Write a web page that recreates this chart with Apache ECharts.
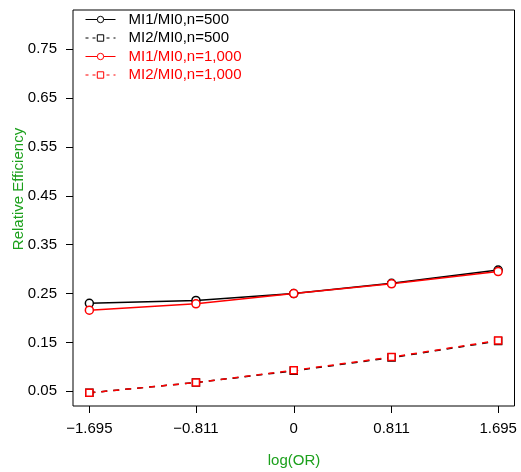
<!DOCTYPE html>
<html>
<head>
<meta charset="utf-8">
<script src="https://cdn.jsdelivr.net/npm/echarts@6/dist/echarts.min.js"></script>
<style>
  html, body { margin: 0; padding: 0; background: #fff; }
  #chart { width: 521px; height: 472px; }
</style>
</head>
<body>
<div id="chart"></div>
<script>
// log odds ratios at which relative efficiency was evaluated
const logOR = [-1.695, -0.811, 0, 0.811, 1.695];
const yTicks = [0.05, 0.15, 0.25, 0.35, 0.45, 0.55, 0.65, 0.75];

// relative efficiency values
const mi1n500  = [0.230, 0.236, 0.250, 0.271, 0.298];
const mi2n500  = [0.047, 0.068, 0.092, 0.119, 0.153];
const mi1n1000 = [0.216, 0.229, 0.250, 0.270, 0.295];
const mi2n1000 = [0.047, 0.068, 0.093, 0.120, 0.154];

const seriesNames = ['MI1/MI0,n=500', 'MI2/MI0,n=500', 'MI1/MI0,n=1,000', 'MI2/MI0,n=1,000'];

const FONT = '"Liberation Sans", Arial, Helvetica, sans-serif';
const GREEN = '#1ca01c';

function pairs(ys) { return logOR.map((x, i) => [x, ys[i]]); }

function makeSeries(name, ys, color, symbol, dashed) {
  return {
    name: name,
    type: 'line',
    data: pairs(ys),
    symbol: symbol,
    symbolSize: symbol === 'circle' ? 8 : 7,
    showSymbol: true,
    lineStyle: { color: color, width: 1.5, type: dashed ? [6, 6] : 'solid' },
    itemStyle: { color: '#fff', borderColor: color, borderWidth: 1.5 },
    emphasis: { disabled: true },
    animation: false
  };
}

const chart = echarts.init(document.getElementById('chart'), null, { renderer: 'canvas' });

chart.setOption({
  backgroundColor: '#fff',
  textStyle: { fontFamily: FONT },
  grid: {
    left: 73, top: 10, right: 6.5, bottom: 66,
    show: true, borderColor: '#000', borderWidth: 1, backgroundColor: 'transparent'
  },
  legend: {
    orient: 'vertical',
    left: 85, top: 12,
    padding: 0,
    itemWidth: 30, itemHeight: 8,
    itemGap: 3.5,
    lineStyle: { width: 1 },
    itemStyle: { borderWidth: 1 },
    selectedMode: false,
    data: [
      { name: seriesNames[0], textStyle: { color: '#000' } },
      { name: seriesNames[1], textStyle: { color: '#000' }, lineStyle: { type: [3, 4] } },
      { name: seriesNames[2], textStyle: { color: '#ff0000' } },
      { name: seriesNames[3], textStyle: { color: '#ff0000' }, lineStyle: { type: [3, 4] } }
    ],
    textStyle: { fontFamily: FONT, fontSize: 15, lineHeight: 15, padding: [0, 0, 0, 8] }
  },
  xAxis: {
    type: 'value',
    min: -1.8306, max: 1.8306,
    splitLine: { show: false },
    axisLine: { show: false, onZero: false },
    axisTick: { show: true, inside: false, length: 7, customValues: logOR, lineStyle: { color: '#000', width: 1 } },
    axisLabel: {
      customValues: logOR,
      margin: 15,
      color: '#000', fontSize: 15, fontFamily: FONT,
      formatter: v => String(v).replace('-', '\u2212')
    }
  },
  yAxis: {
    type: 'value',
    min: 0.02, max: 0.83,
    splitLine: { show: false },
    axisLine: { show: false, onZero: false },
    axisTick: { show: true, inside: false, length: 7, customValues: yTicks, lineStyle: { color: '#000', width: 1 } },
    axisLabel: {
      customValues: yTicks,
      margin: 16,
      color: '#000', fontSize: 15, fontFamily: FONT,
      formatter: v => v.toFixed(2)
    }
  },
  graphic: [
    {
      type: 'text', x: 294, y: 461,
      style: { text: 'log(OR)', fill: GREEN, font: '15px ' + FONT, align: 'center', verticalAlign: 'middle' }
    },
    {
      type: 'text', x: 19, y: 189, rotation: Math.PI / 2,
      style: { text: 'Relative Efficiency', fill: GREEN, font: '15px ' + FONT, align: 'center', verticalAlign: 'middle' }
    }
  ],
  series: [
    makeSeries(seriesNames[0], mi1n500, '#000', 'circle', false),
    makeSeries(seriesNames[1], mi2n500, '#000', 'rect', true),
    makeSeries(seriesNames[2], mi1n1000, '#ff0000', 'circle', false),
    makeSeries(seriesNames[3], mi2n1000, '#ff0000', 'rect', true)
  ]
});
</script>
</body>
</html>
